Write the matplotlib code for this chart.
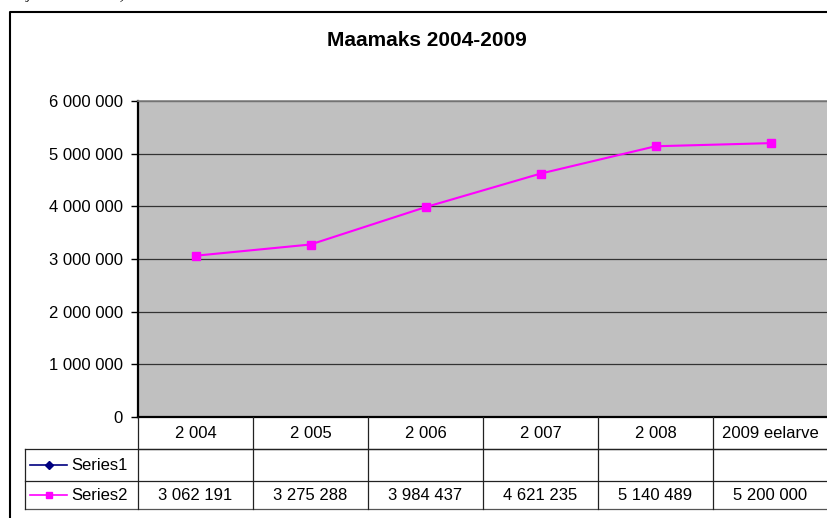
import matplotlib
matplotlib.use("Agg")
import matplotlib.pyplot as plt
from matplotlib.lines import Line2D
from matplotlib.ticker import FuncFormatter, MultipleLocator

plt.rcParams['font.family'] = ['Liberation Sans', 'DejaVu Sans']

# ---- data ----
title = "Maamaks 2004-2009"
categories = ["2 004", "2 005", "2 006", "2 007", "2 008", "2009 eelarve"]
series1_name = "Series1"
series1_values = [None, None, None, None, None, None]
series2_name = "Series2"
series2_values = [3062191, 3275288, 3984437, 4621235, 5140489, 5200000]
y_max = 6000000
y_step = 1000000

W, H = 827, 518
fig = plt.figure(figsize=(W / 100, H / 100), dpi=100)
fig.patch.set_facecolor("white")

def fx(px):
    return px / W

def fy(py):
    return 1 - py / H

FS = 12

# main plot axes (pixel layout)
left, right, top, bottom = 138, 828, 101, 417
ax = fig.add_axes([fx(left), fy(bottom), (right - left) / W, (bottom - top) / H])
ax.set_facecolor("#C0C0C0")
n = len(categories)
ax.set_xlim(-0.5, n - 0.5)
ax.set_ylim(0, y_max)
ax.yaxis.set_major_locator(MultipleLocator(y_step))
ax.yaxis.set_major_formatter(FuncFormatter(lambda v, p: f"{int(v):,}".replace(",", " ")))
ax.set_xticks([])
ax.tick_params(axis="y", length=5, width=1, direction="out", labelsize=FS, pad=6, colors="black")
ax.grid(axis="y", color="#333333", linewidth=0.9)
ax.set_axisbelow(True)
for s in ["left", "bottom"]:
    ax.spines[s].set_color("black")
    ax.spines[s].set_linewidth(1.6)
ax.spines["top"].set_color("#808080")
ax.spines["top"].set_linewidth(1.2)
ax.spines["right"].set_visible(False)

xs = list(range(n))
s1x = [x for x, v in zip(xs, series1_values) if v is not None]
s1y = [v for v in series1_values if v is not None]
ax.plot(s1x, s1y, color="#000080", marker="D", markersize=5, linewidth=1.5)
ax.plot(xs, series2_values, color="#FF00FF", marker="s", markersize=5.5,
        linewidth=1.5, clip_on=False, zorder=3)

# overlay axes in pixel coordinates
ov = fig.add_axes([0, 0, 1, 1], zorder=5)
ov.set_xlim(0, W)
ov.set_ylim(H, 0)
ov.axis("off")
ov.patch.set_alpha(0)

# chart border
ov.plot([9.5, 9.5, W + 5], [H + 5, 12, 12], color="black", linewidth=1.5, clip_on=False)

# title
ov.text(427, 40, title, ha="center", va="center", fontsize=15, fontweight="bold")

# partial caption above the chart (cut off by the image edge, as in the reference)
ov.text(27, -1.0, "ja eelarve 2009)", ha="left", va="baseline", fontsize=11,
        family="Liberation Serif", style="italic", clip_on=False)

# column edges derived from main axes data coordinates
def to_px(x):
    disp = ax.transData.transform((x, 0))
    return ov.transData.inverted().transform(disp)[0]

edges = [to_px(i - 0.5) for i in range(n + 1)]
centers = [to_px(i) for i in range(n)]

row_y = [417, 448.5, 480.5, 508.5]
leg_left = 25
lw = 0.9
lc = "#222222"
# horizontal lines
ov.plot([edges[0], edges[-1] + 5], [row_y[1], row_y[1]], color=lc, linewidth=lw, clip_on=False)
ov.plot([leg_left, edges[-1] + 5], [row_y[1], row_y[1]], color=lc, linewidth=lw, clip_on=False)
ov.plot([leg_left, edges[-1] + 5], [row_y[2], row_y[2]], color=lc, linewidth=lw, clip_on=False)
ov.plot([leg_left, edges[-1] + 5], [row_y[3], row_y[3]], color="#555555", linewidth=lw, clip_on=False)
# vertical lines
for e in edges[1:-1]:
    ov.plot([e, e], [row_y[0], row_y[3]], color=lc, linewidth=lw)
ov.plot([edges[0], edges[0]], [row_y[0], row_y[3]], color=lc, linewidth=lw)
ov.plot([leg_left, leg_left], [row_y[1], row_y[3]], color=lc, linewidth=lw)

# header row
for c, lab in zip(centers, categories):
    ov.text(c, 433, lab, ha="center", va="center", fontsize=FS)

# legend cells and values
rows = [(series1_name, series1_values, "#000080", "D", 4.5),
        (series2_name, series2_values, "#FF00FF", "s", 5)]
for r, (name, vals, col, mk, ms) in enumerate(rows):
    yc = (row_y[r + 1] + row_y[r + 2]) / 2 + 0.5
    ov.add_line(Line2D([30, 67], [yc, yc], color=col, linewidth=1.2))
    ov.add_line(Line2D([48.5], [yc], color=col, marker=mk, markersize=ms, linewidth=0))
    ov.text(71, yc, name, ha="left", va="center", fontsize=FS)
    for c, v in zip(centers, vals):
        if v is not None:
            ov.text(c, yc, f"{v:,}".replace(",", " "), ha="center", va="center", fontsize=FS)

fig.savefig("out.png", dpi=100)
